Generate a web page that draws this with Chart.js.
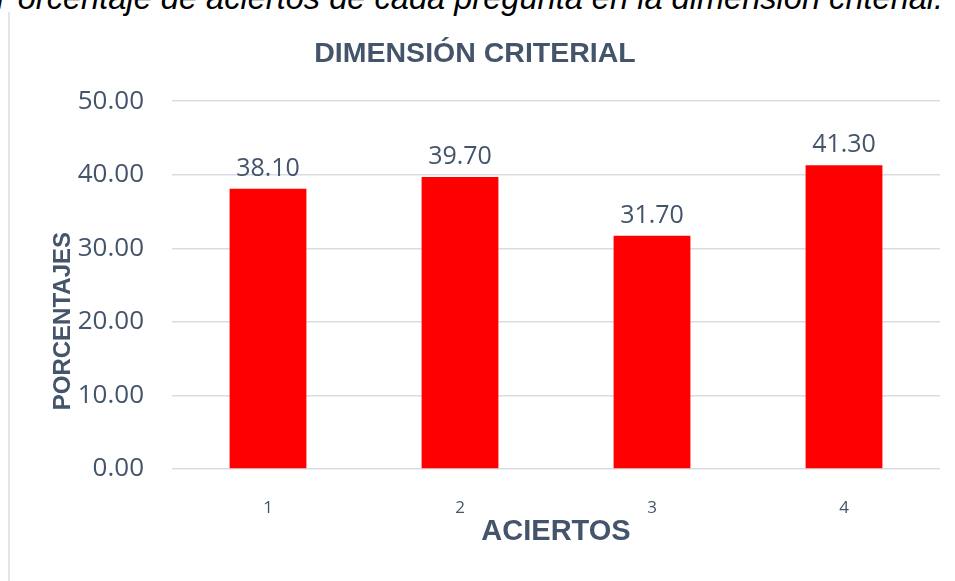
<!DOCTYPE html>
<html>
<head>
<meta charset="utf-8">
<script src="https://cdn.jsdelivr.net/npm/chart.js@4.4.0/dist/chart.umd.min.js"></script>
<style>
    body { margin: 0; background: #fff; width: 955px; height: 581px; overflow: hidden; position: relative; }
    #caption {
        position: absolute; left: -4px; top: -18px; white-space: nowrap;
        font: italic 32.6px "Liberation Sans", Arial, sans-serif; line-height: 32px; color: #000;
    }
    #frame { position: absolute; left: 8px; top: 12px; width: 0; height: 569px; border-left: 2px solid #e2e5ea; }
    #wrap { position: absolute; left: 10px; top: 12px; width: 945px; height: 569px; }
</style>
</head>
<body>
<div id="caption">Porcentaje de aciertos de cada pregunta en la dimensión criterial.</div>
<div id="frame"></div>
<div id="wrap"><canvas id="chart"></canvas></div>
<script>
const categories = ['1', '2', '3', '4'];
const aciertos = [38.10, 39.70, 31.70, 41.30];
const yMin = 0, yMax = 50, yStep = 10;

const TEXT = '#44546A';
const GRID = '#d9dde3';

// etiquetas encima de cada barra
const valueLabels = {
    id: 'valueLabels',
    afterDatasetsDraw(chart) {
        const ctx = chart.ctx;
        ctx.save();
        ctx.font = '25px "Open Sans", sans-serif';
        ctx.fillStyle = TEXT;
        ctx.textAlign = 'center';
        ctx.textBaseline = 'alphabetic';
        chart.getDatasetMeta(0).data.forEach(function (bar, i) {
            ctx.fillText(aciertos[i].toFixed(2), bar.x, bar.y - 13);
        });
        ctx.restore();
    }
};

// titulo vertical del eje y
const yTitle = {
    id: 'yTitle',
    afterDraw(chart) {
        const a = chart.chartArea;
        const ctx = chart.ctx;
        ctx.save();
        ctx.translate(53, (a.top + a.bottom) / 2 + 36);
        ctx.rotate(-Math.PI / 2);
        ctx.font = 'bold 24px "Liberation Sans", Arial, sans-serif';
        ctx.fillStyle = TEXT;
        ctx.textAlign = 'center';
        ctx.textBaseline = 'middle';
        ctx.fillText('PORCENTAJES', 0, 0);
        ctx.restore();
    }
};

new Chart(document.getElementById('chart'), {
    type: 'bar',
    data: {
        labels: categories,
        datasets: [{
            data: aciertos,
            backgroundColor: '#ff0000',
            categoryPercentage: 1,
            barPercentage: 0.4
        }]
    },
    options: {
        responsive: true,
        maintainAspectRatio: false,
        animation: false,
        layout: { padding: { left: 0, right: 15, top: 0, bottom: 0 } },
        plugins: {
            legend: { display: false },
            tooltip: { enabled: false },
            title: {
                display: true,
                text: 'DIMENSIÓN CRITERIAL',
                color: TEXT,
                font: { family: '"Liberation Sans", Arial, sans-serif', size: 28.5, weight: 'bold' },
                padding: { top: 25, bottom: 30 }
            }
        },
        scales: {
            x: {
                grid: { display: false },
                border: { display: false },
                ticks: {
                    color: TEXT,
                    font: { family: '"Open Sans", sans-serif', size: 17 },
                    padding: 21
                },
                title: {
                    display: true,
                    text: 'ACIERTOS',
                    color: TEXT,
                    font: { family: '"Liberation Sans", Arial, sans-serif', size: 29, weight: 'bold' },
                    padding: { top: 0, bottom: 32 }
                },
                afterFit(scale) { scale.height = 112; }
            },
            y: {
                min: yMin,
                max: yMax,
                grid: { color: GRID, lineWidth: 1.5, drawTicks: false },
                border: { display: false },
                ticks: {
                    stepSize: yStep,
                    color: TEXT,
                    font: { family: '"Open Sans", sans-serif', size: 26 },
                    padding: 28,
                    callback: function (v) { return v.toFixed(2); }
                },
                afterFit(scale) { scale.width = 162; }
            }
        }
    },
    plugins: [valueLabels, yTitle]
});
</script>
</body>
</html>
